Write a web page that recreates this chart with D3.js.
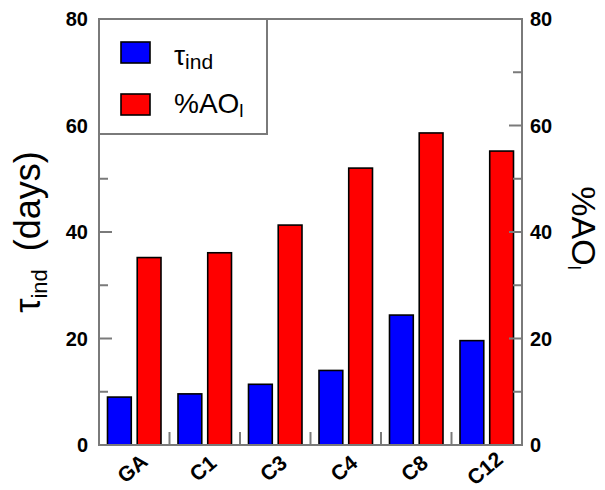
<!DOCTYPE html>
<html>
<head>
<meta charset="utf-8">
<script src="https://cdn.jsdelivr.net/npm/d3@7"></script>
<style>
  body { margin: 0; background: #fff; }
  svg { display: block; font-family: "Liberation Sans", Arial, sans-serif; }
</style>
</head>
<body>
<div id="chart"></div>
<script>
// data
const categories = ['GA', 'C1', 'C3', 'C4', 'C8', 'C12'];
const series = ['tau', 'ao'];
const tauValues = [9.0, 9.6, 11.4, 14.0, 24.4, 19.6];
const aoValues = [35.2, 36.1, 41.3, 52.0, 58.6, 55.2];
const majorTicks = [0, 20, 40, 60, 80];
const minorTicks = [10, 30, 50, 70];

const colors = { tau: '#0000ff', ao: '#ff0000' };

const width = 605, height = 490;
const frame = { left: 99, right: 522, top: 19, bottom: 445 };
const frameColor = '#7a7a7a';

const svg = d3.select('#chart').append('svg')
    .attr('width', width)
    .attr('height', height);

const xs = d3.scaleBand()
    .domain(categories)
    .range([frame.left, frame.right]);

const xSub = d3.scaleBand()
    .domain(series)
    .range([8.5, 62])
    .paddingInner(0.2);

const ys = d3.scaleLinear()
    .domain([0, 80])
    .range([frame.bottom, frame.top]);

const rows = categories.map((c, i) => ({ cat: c, tau: tauValues[i], ao: aoValues[i] }));

// bars
const groups = svg.selectAll('.cat')
    .data(rows)
    .enter()
    .append('g')
    .attr('class', 'cat')
    .attr('transform', d => 'translate(' + xs(d.cat) + ',0)');

groups.selectAll('rect')
    .data(d => series.map(s => ({ key: s, value: d[s] })))
    .enter()
    .append('rect')
    .attr('x', d => xSub(d.key))
    .attr('width', xSub.bandwidth())
    .attr('y', d => ys(d.value))
    .attr('height', d => ys(0) - ys(d.value))
    .style('fill', d => colors[d.key])
    .style('stroke', '#000')
    .style('stroke-width', '1.6px');

// frame
svg.append('rect')
    .attr('x', frame.left)
    .attr('y', frame.top)
    .attr('width', frame.right - frame.left)
    .attr('height', frame.bottom - frame.top)
    .style('fill', 'none')
    .style('stroke', frameColor)
    .style('stroke-width', '2px');

// y ticks, left and right, pointing inward
const tickG = svg.append('g').style('stroke', frameColor).style('stroke-width', '2px');
[[majorTicks, 13], [minorTicks, 9]].forEach(([vals, len]) => {
    tickG.selectAll(null).data(vals).enter().append('line')
        .attr('x1', frame.left).attr('x2', frame.left + len)
        .attr('y1', d => ys(d)).attr('y2', d => ys(d));
    tickG.selectAll(null).data(vals).enter().append('line')
        .attr('x1', frame.right).attr('x2', frame.right - len)
        .attr('y1', d => ys(d)).attr('y2', d => ys(d));
});

// category separators on bottom
tickG.selectAll(null).data(categories.slice(1)).enter().append('line')
    .attr('x1', d => xs(d)).attr('x2', d => xs(d))
    .attr('y1', frame.bottom).attr('y2', frame.bottom - 13);

// tick labels
svg.append('g').selectAll('text')
    .data(majorTicks)
    .enter()
    .append('text')
    .attr('x', frame.left - 11)
    .attr('y', d => ys(d))
    .attr('dy', '0.36em')
    .style('text-anchor', 'end')
    .style('font-weight', 'bold')
    .style('font-size', '20px')
    .text(d => d);

svg.append('g').selectAll('text')
    .data(majorTicks)
    .enter()
    .append('text')
    .attr('x', frame.right + 8)
    .attr('y', d => ys(d))
    .attr('dy', '0.36em')
    .style('text-anchor', 'start')
    .style('font-weight', 'bold')
    .style('font-size', '20px')
    .text(d => d);

// x labels, rotated
svg.append('g').selectAll('text')
    .data(categories)
    .enter()
    .append('text')
    .attr('transform', d => 'translate(' + (xs(d) + xs.bandwidth() / 2 - 2) + ',468) rotate(-40)')
    .attr('dy', '0.36em')
    .style('text-anchor', 'middle')
    .style('font-weight', 'bold')
    .style('font-size', '21px')
    .text(d => d);

// left axis title
const yTitle = svg.append('text')
    .attr('transform', 'translate(40,232) rotate(-90)')
    .style('text-anchor', 'middle')
    .style('font-size', '36px');
yTitle.append('tspan').text('τ');
yTitle.append('tspan').attr('dy', 7).style('font-size', '22px').text('ind');
yTitle.append('tspan').attr('dy', -7).attr('dx', 18).text('(days)');

// right axis title
const y2Title = svg.append('text')
    .attr('transform', 'translate(572,228) rotate(90)')
    .style('text-anchor', 'middle')
    .style('font-size', '34px');
y2Title.append('tspan').text('%AO');
y2Title.append('tspan').attr('dy', 4).style('font-size', '18px').text('l');

// legend
const legend = svg.append('g');
legend.append('rect')
    .attr('x', frame.left).attr('y', frame.top)
    .attr('width', 168).attr('height', 115)
    .style('fill', '#fff')
    .style('stroke', frameColor)
    .style('stroke-width', '2px');

const legendItems = [
    { key: 'tau', main: 'τ', sub: 'ind', y: 42 },
    { key: 'ao', main: '%AO', sub: 'l', y: 94 }
];

const li = legend.selectAll('.legend')
    .data(legendItems)
    .enter()
    .append('g')
    .attr('class', 'legend');

li.append('rect')
    .attr('x', 121).attr('y', d => d.y)
    .attr('width', 29).attr('height', 21)
    .style('fill', d => colors[d.key])
    .style('stroke', '#000')
    .style('stroke-width', '1.6px');

const lt = li.append('text')
    .attr('x', 174)
    .attr('y', d => d.y + (d.key === 'tau' ? 23 : 19))
    .style('font-size', '28px');
lt.append('tspan').text(d => d.main);
lt.append('tspan').attr('dy', 4).style('font-size', d => d.key === 'tau' ? '21px' : '19px').text(d => d.sub);
</script>
</body>
</html>
